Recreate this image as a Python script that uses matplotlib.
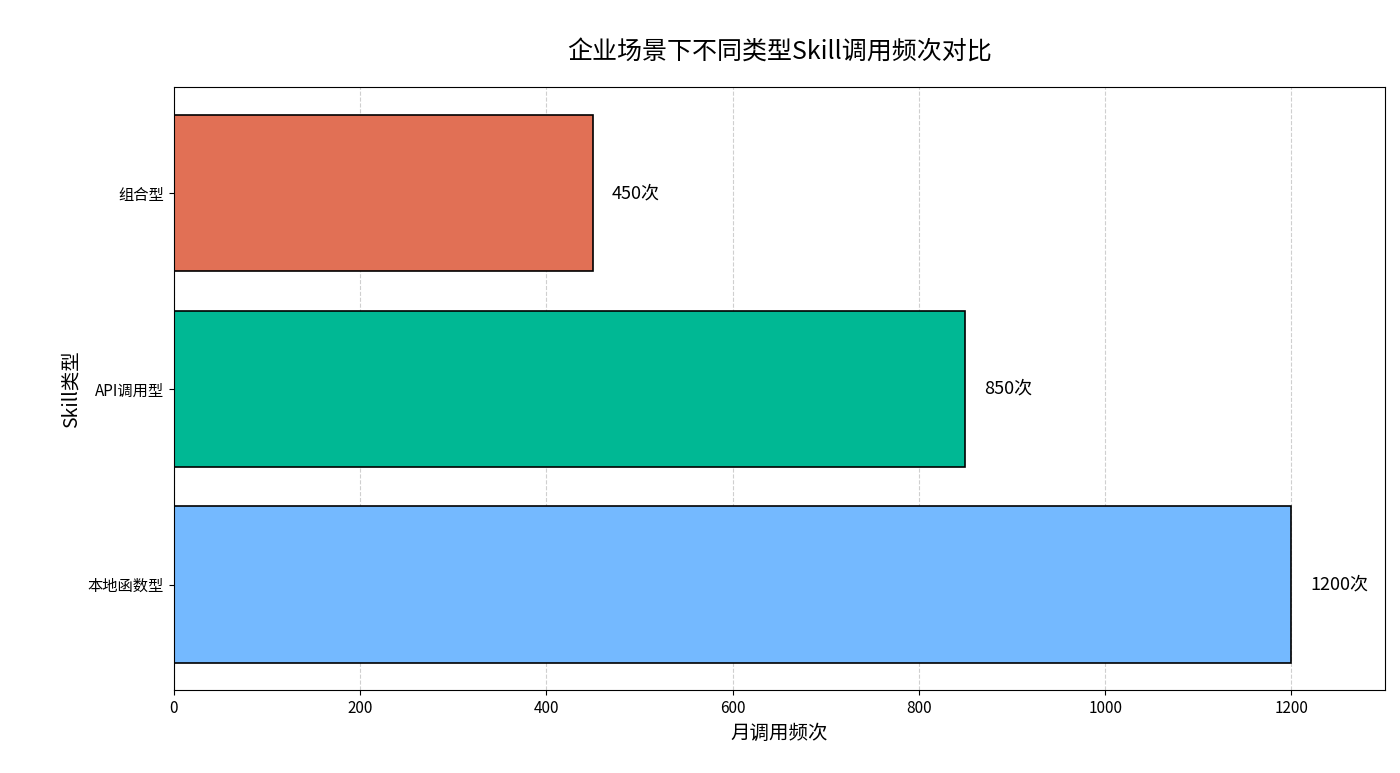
import matplotlib
matplotlib.use("Agg")
import matplotlib.pyplot as plt

plt.rcParams['font.family'] = ['Noto Sans CJK SC', 'DejaVu Sans']
plt.rcParams['axes.unicode_minus'] = False

categories = ['本地函数型', 'API调用型', '组合型']
values = [1200, 850, 450]
colors = ['#74B9FF', '#00B894', '#E17055']

fig = plt.figure(figsize=(14, 7.73), dpi=100)
ax = fig.add_axes([0.124, 0.107, 0.865, 0.78])
bars = ax.barh(categories, values, color=colors, edgecolor='black', linewidth=1.2, height=0.8, zorder=2)
for b, v in zip(bars, values):
    ax.text(v + 20, b.get_y() + b.get_height() / 2, f'{v}次', va='center', ha='left', fontsize=13)
ax.set_xlim(0, 1300)
ax.grid(axis='x', linestyle='--', alpha=0.6, zorder=0)
ax.set_axisbelow(True)
ax.set_xlabel('月调用频次', fontsize=14)
ax.set_ylabel('Skill类型', fontsize=14)
ax.set_title('企业场景下不同类型Skill调用频次对比', fontsize=18, pad=20)
ax.tick_params(labelsize=11)
fig.savefig('out.png', dpi=100)
